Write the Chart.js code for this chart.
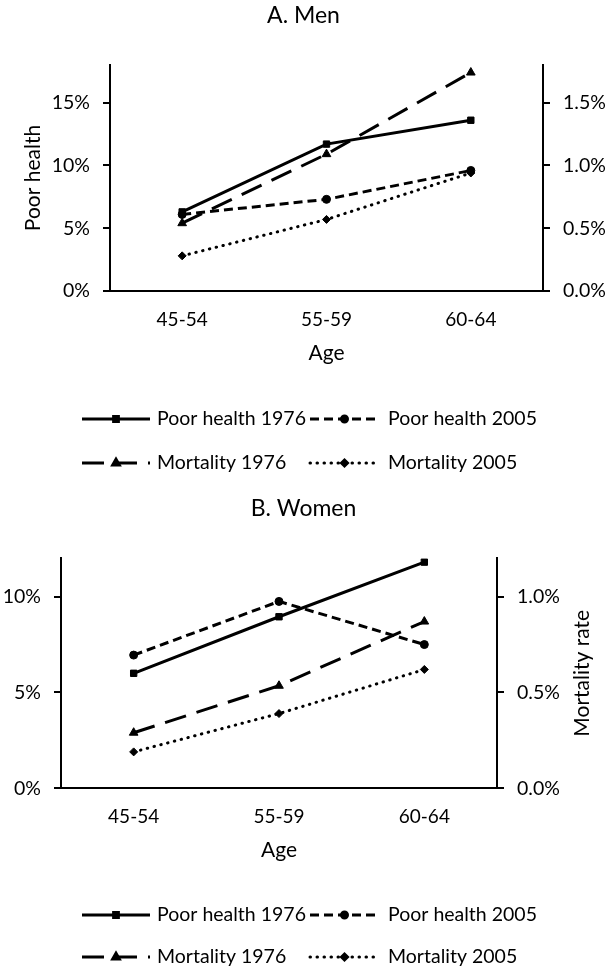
<!DOCTYPE html>
<html>
<head>
<meta charset="utf-8">
<title>Poor health and mortality by age, 1976 and 2005</title>
<script src="https://cdn.jsdelivr.net/npm/chart.js@4.4.1/dist/chart.umd.min.js"></script>
<style>
  body { margin: 0; background: #fff; }
  .wrap { position: absolute; left: 0; width: 607px; }
</style>
</head>
<body>
<div class="wrap" style="top:0;height:490px"><canvas id="men" width="607" height="490"></canvas></div>
<div class="wrap" style="top:490px;height:481px"><canvas id="women" width="607" height="481"></canvas></div>
<script>
var ages = ["45-54", "55-59", "60-64"];
var seriesNames = ["Poor health 1976", "Poor health 2005", "Mortality 1976", "Mortality 2005"];

// A. Men (percent)
var menPoorHealth1976 = [6.3, 11.7, 13.6];
var menPoorHealth2005 = [6.1, 7.3, 9.6];
var menMortality1976 = [0.54, 1.09, 1.74];
var menMortality2005 = [0.28, 0.57, 0.94];

// B. Women (percent)
var womenPoorHealth1976 = [6.0, 8.95, 11.8];
var womenPoorHealth2005 = [6.95, 9.75, 7.5];
var womenMortality1976 = [0.29, 0.535, 0.87];
var womenMortality2005 = [0.19, 0.39, 0.62];

// axis ranges (percent): min, max, step
var menHealthAxis = [0, 18, 5];
var menMortalityAxis = [0, 1.8, 0.5];
var womenHealthAxis = [0, 12, 5];
var womenMortalityAxis = [0, 1.2, 0.5];

Chart.defaults.font.family = "Lato, 'DejaVu Sans', sans-serif";
Chart.defaults.color = "#000";

var lineStyles = [
    { dash: [], cap: "butt", point: "rect", radius: 4.5 },
    { dash: [9, 5], cap: "butt", point: "circle", radius: 4 },
    { dash: [22, 11], cap: "butt", point: "triangle", radius: 5 },
    { dash: [0.5, 6.5], cap: "round", point: "rectRot", radius: 4 }
];

// legend in two columns under the plot, like the original figure
var gridLegend = {
    id: "gridLegend",
    afterDraw: function (chart, args, opts) {
        var ctx = chart.ctx;
        ctx.save();
        chart.data.datasets.forEach(function (ds, i) {
            var col = opts.cols[i % 2];
            var y = opts.rows[Math.floor(i / 2)];
            ctx.strokeStyle = "#000";
            ctx.fillStyle = "#000";
            ctx.lineWidth = 3;
            ctx.lineCap = ds.borderCapStyle;
            ctx.setLineDash(ds.borderDash);
            ctx.beginPath();
            ctx.moveTo(col.from, y);
            ctx.lineTo(col.to, y);
            ctx.stroke();
            ctx.setLineDash([]);
            Chart.helpers.drawPoint(ctx, {
                pointStyle: ds.pointStyle,
                radius: ds.pointRadius * 0.75,
                borderWidth: 1,
                rotation: 0
            }, (col.from + col.to) / 2, y);
            ctx.font = "19.5px " + Chart.defaults.font.family;
            ctx.textAlign = "left";
            ctx.textBaseline = "middle";
            ctx.fillText(ds.label, col.text, y);
        });
        ctx.restore();
    }
};

// right axis title reads bottom-to-top in the original
var sideTitle = {
    id: "sideTitle",
    afterDraw: function (chart, args, opts) {
        if (!opts.text) return;
        var ctx = chart.ctx;
        var area = chart.chartArea;
        ctx.save();
        ctx.translate(opts.x, (area.top + area.bottom) / 2);
        ctx.rotate(-Math.PI / 2);
        ctx.font = "21px " + Chart.defaults.font.family;
        ctx.fillStyle = "#000";
        ctx.textAlign = "center";
        ctx.textBaseline = "middle";
        ctx.fillText(opts.text, 0, 0);
        ctx.restore();
    }
};

function axisLine() {
    return { display: true, color: "#000", width: 2 };
}

function tickMarks() {
    return { display: true, drawOnChartArea: false, drawTicks: true, tickLength: 7, color: "#000", lineWidth: 2 };
}

function buildChart(id, p) {
    return new Chart(document.getElementById(id), {
        type: "line",
        data: {
            labels: ages,
            datasets: p.series.map(function (values, i) {
                var s = lineStyles[i];
                return {
                    label: seriesNames[i],
                    data: values,
                    yAxisID: i < 2 ? "y" : "y1",
                    borderColor: "#000",
                    backgroundColor: "#000",
                    borderWidth: 3,
                    borderDash: s.dash,
                    borderCapStyle: s.cap,
                    pointStyle: s.point,
                    pointRadius: s.radius,
                    pointBackgroundColor: "#000",
                    pointBorderColor: "#000",
                    pointBorderWidth: 1,
                    fill: false,
                    tension: 0
                };
            })
        },
        options: {
            responsive: false,
            animation: false,
            layout: { padding: { left: 0, right: 0, top: 0, bottom: p.bottomPad } },
            plugins: {
                legend: { display: false },
                tooltip: { enabled: false },
                title: {
                    display: true,
                    text: p.title,
                    color: "#000",
                    font: { size: 23, weight: "normal" },
                    padding: { top: p.titleTop, bottom: p.titleBottom }
                },
                gridLegend: {
                    rows: p.legendRows,
                    cols: [{ from: 82, to: 150, text: 157 }, { from: 310, to: 379, text: 388 }]
                },
                sideTitle: { text: p.rightTitle, x: 582 }
            },
            scales: {
                x: {
                    offset: true,
                    grid: { display: false, drawTicks: false },
                    border: axisLine(),
                    ticks: { padding: 17.5, font: { size: 19 }, maxRotation: 0 },
                    title: { display: true, text: "Age", font: { size: 21 }, padding: { top: 0, bottom: 0.5 } },
                    afterFit: function (s) { s.height = 75; }
                },
                y: {
                    position: "left",
                    min: p.healthAxis[0],
                    max: p.healthAxis[1],
                    grid: tickMarks(),
                    border: axisLine(),
                    ticks: {
                        stepSize: p.healthAxis[2],
                        includeBounds: false,
                        padding: 13,
                        font: { size: 19.5 },
                        callback: function (v) { return v + "%"; }
                    },
                    title: { display: !!p.leftTitle, text: p.leftTitle, font: { size: 21 }, padding: { top: 21, bottom: 0 } },
                    afterFit: function (s) { s.width = p.leftWidth; }
                },
                y1: {
                    position: "right",
                    min: p.mortalityAxis[0],
                    max: p.mortalityAxis[1],
                    grid: tickMarks(),
                    border: axisLine(),
                    ticks: {
                        stepSize: p.mortalityAxis[2],
                        includeBounds: false,
                        padding: 13,
                        font: { size: 19.5 },
                        callback: function (v) { return v.toFixed(1) + "%"; }
                    },
                    afterFit: function (s) { s.width = p.rightWidth; }
                }
            }
        },
        plugins: [gridLegend, sideTitle]
    });
}

buildChart("men", {
    title: "A. Men",
    series: [menPoorHealth1976, menPoorHealth2005, menMortality1976, menMortality2005],
    healthAxis: menHealthAxis,
    mortalityAxis: menMortalityAxis,
    leftTitle: "Poor health",
    rightTitle: "",
    leftWidth: 110,
    rightWidth: 64,
    titleTop: 2,
    titleBottom: 35.4,
    bottomPad: 124,
    legendRows: [419, 463]
});

buildChart("women", {
    title: "B. Women",
    series: [womenPoorHealth1976, womenPoorHealth2005, womenMortality1976, womenMortality2005],
    healthAxis: womenHealthAxis,
    mortalityAxis: womenMortalityAxis,
    leftTitle: "",
    rightTitle: "Mortality rate",
    leftWidth: 61,
    rightWidth: 110,
    titleTop: 4.7,
    titleBottom: 36,
    bottomPad: 107.7,
    legendRows: [425, 467]
});
</script>
</body>
</html>
